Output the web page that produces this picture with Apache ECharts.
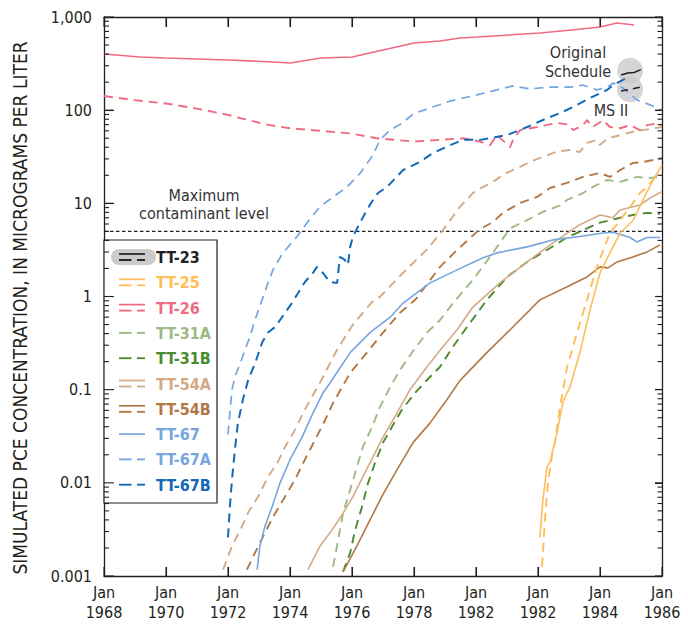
<!DOCTYPE html>
<html>
<head>
<meta charset="utf-8">
<script src="https://cdn.jsdelivr.net/npm/echarts@6/dist/echarts.min.js"></script>
<style>
html,body{margin:0;padding:0;background:#fff;}
#chart{width:688px;height:626px;}
</style>
</head>
<body>
<div id="chart"></div>
<script>
// ---------- axis ticks ----------
const xTickValues = [1968, 1970, 1972, 1974, 1976, 1978, 1980, 1982, 1984, 1986];
const xTickLabels = ['Jan\n1968', 'Jan\n1970', 'Jan\n1972', 'Jan\n1974', 'Jan\n1976', 'Jan\n1978', 'Jan\n1982', 'Jan\n1982', 'Jan\n1984', 'Jan\n1986'];
const yTickValues = [0.001, 0.01, 0.1, 1, 10, 100, 1000];
const yTickLabels = ['0.001', '0.01', '0.1', '1', '10', '100', '1,000'];
const yMinorMultipliers = [2, 3, 4, 5, 6, 7, 8, 9];
const mclValue = 5;

// ---------- series data: [decimal year, PCE concentration (µg/L)] ----------
const tt23Orig = [[1984.68,239],[1984.9,251],[1985.1,254],[1985.32,272]];
const tt23MS = [[1984.68,161],[1985.0,168],[1985.32,177]];
const tt23Blob = [[1984.97,265],[1984.97,168]];

const tt25Orig = [[1982.06,0.0026],[1982.16,0.0066],[1982.29,0.0149],[1982.39,0.0168],[1982.61,0.034],[1982.71,0.051],[1982.81,0.075],[1983.03,0.107],[1983.35,0.25],[1983.68,0.72],[1984.0,1.79],[1984.32,2.94],[1984.65,4.8],[1985.06,6.5],[1985.39,10.9],[1985.71,17.8],[1986.0,25.8]];
const tt25MS = [[1982.13,0.00126],[1982.23,0.0043],[1982.32,0.010],[1982.48,0.0226],[1982.55,0.027],[1982.71,0.065],[1982.94,0.176],[1983.26,0.41],[1983.58,0.92],[1983.9,2.08],[1984.32,4.8],[1984.65,6.6],[1984.97,9.15],[1985.29,12.9],[1985.52,15],[1985.75,18.5]];

const tt26Orig = [[1968.0,401],[1969.16,372],[1970.0,363],[1972.0,346],[1973.0,335],[1974.0,321],[1975.0,363],[1976.0,372],[1977.0,443],[1978.0,526],[1978.84,553],[1979.48,595],[1980.06,610],[1982.06,673],[1983.0,720],[1984.0,781],[1984.55,863],[1985.1,821]];
const tt26MS = [[1968,142],[1969,128],[1970,118],[1971,104],[1972,89],[1972.4,82],[1973.35,69],[1974,64],[1975,60],[1976,56],[1976.8,50],[1978,46],[1978.8,48],[1979.6,50],[1980.13,46],[1980.45,42],[1980.68,54],[1981.1,40],[1981.19,48],[1981.42,61],[1981.97,66],[1982.61,73],[1983.0,70],[1983.13,61],[1983.45,69],[1983.58,78],[1983.77,66],[1984.1,78],[1984.32,66],[1984.65,64],[1984.97,69],[1985.29,61],[1985.52,69],[1985.84,72],[1986,69]];

const tt31AMS = [[1975.39,0.00126],[1975.55,0.0024],[1975.71,0.0047],[1975.94,0.0084],[1976.16,0.0149],[1976.35,0.0243],[1976.65,0.040],[1976.9,0.065],[1977.23,0.107],[1977.55,0.163],[1977.97,0.26],[1978.42,0.41],[1978.84,0.56],[1979.26,0.85],[1979.9,1.51],[1980.45,2.66],[1981.1,5.4],[1981.65,6.6],[1982.16,8.1],[1982.71,9.5],[1982.94,10.9],[1983.45,12.9],[1983.77,15],[1984.23,17.8],[1984.65,17],[1985.19,19.2],[1985.61,18.7],[1985.84,19.2]];
const tt31BMS = [[1975.71,0.00111],[1975.94,0.00177],[1976.1,0.0031],[1976.32,0.0055],[1976.52,0.010],[1976.74,0.0163],[1977.0,0.027],[1977.29,0.040],[1977.61,0.061],[1978.03,0.092],[1978.42,0.127],[1978.84,0.176],[1979.26,0.29],[1979.71,0.47],[1980.35,0.92],[1981.0,1.62],[1981.65,2.35],[1982.29,3.16],[1982.94,4.3],[1983.58,5.4],[1984.0,6.2],[1984.65,7.0],[1985.06,7.5],[1985.52,7.9],[1985.94,7.7]];

const tt54AOrig = [[1974.58,0.00117],[1974.97,0.0021],[1975.35,0.0031],[1975.71,0.0047],[1976.03,0.0071],[1976.35,0.0116],[1976.68,0.019],[1977.0,0.031],[1977.45,0.056],[1977.87,0.10],[1978.42,0.176],[1978.94,0.29],[1979.39,0.44],[1979.9,0.77],[1980.77,1.40],[1981.65,2.35],[1982.48,3.76],[1983.35,5.9],[1984.0,7.5],[1984.42,7.0],[1984.65,8.5],[1985.29,9.6],[1985.61,11.4],[1986.0,13.3]];
const tt54AMS = [[1971.84,0.00117],[1972.13,0.0021],[1972.45,0.0034],[1972.65,0.0048],[1972.97,0.0071],[1973.29,0.0116],[1973.61,0.0168],[1973.84,0.0243],[1974.16,0.037],[1974.42,0.056],[1974.71,0.084],[1975.03,0.13],[1975.52,0.27],[1976.03,0.50],[1976.65,0.875],[1976.9,0.99],[1977.65,1.8],[1978.42,3.2],[1978.94,5.2],[1979.48,9.15],[1979.9,12.9],[1980.23,15],[1980.55,17],[1980.87,20.2],[1981.19,22.8],[1981.42,24.6],[1981.74,27.8],[1982.16,31.5],[1982.61,36],[1983.03,37.4],[1983.35,35.6],[1983.58,44.5],[1983.9,47.9],[1984.0,42.4],[1984.26,50.3],[1984.42,51.5],[1985.0,58],[1986.0,66]];

const tt54BOrig = [[1975.71,0.00111],[1976.16,0.0021],[1976.58,0.0040],[1977.0,0.0075],[1977.45,0.0138],[1977.97,0.027],[1978.52,0.044],[1979.06,0.078],[1979.48,0.125],[1980.35,0.25],[1981.19,0.47],[1982.06,0.92],[1982.94,1.27],[1983.58,1.62],[1984.0,2.08],[1984.26,2.03],[1984.55,2.35],[1985.06,2.66],[1985.52,3.01],[1985.94,3.58]];
const tt54BMS = [[1972.61,0.00117],[1972.87,0.00177],[1973.19,0.0029],[1973.45,0.0043],[1973.84,0.0071],[1974.16,0.0108],[1974.48,0.0177],[1974.81,0.029],[1975.13,0.047],[1975.39,0.072],[1975.94,0.151],[1976.48,0.25],[1977.0,0.41],[1977.55,0.67],[1978.05,0.93],[1978.84,2.08],[1979.39,3.16],[1980.13,5.3],[1980.55,6.3],[1980.87,7.9],[1981.42,10.1],[1981.97,11.7],[1982.39,14.6],[1982.94,16.6],[1983.45,19.2],[1984.0,21.2],[1984.32,19.2],[1984.65,22.8],[1985.06,27.1],[1985.39,27.8],[1985.71,29.2],[1986.0,30.7]];

const tt67Orig = [[1972.94,0.00117],[1973.03,0.0021],[1973.19,0.0034],[1973.42,0.0055],[1973.68,0.010],[1974.0,0.0177],[1974.39,0.031],[1974.74,0.056],[1975.06,0.092],[1975.29,0.118],[1975.94,0.25],[1976.58,0.41],[1977.23,0.6],[1977.65,0.85],[1978.52,1.40],[1979.39,1.93],[1980.23,2.6],[1980.68,2.94],[1981.65,3.41],[1982.48,4.05],[1983.35,4.4],[1984.1,4.8],[1984.42,4.9],[1984.97,4.3],[1985.19,3.85],[1985.52,4.3],[1985.94,4.3]];
const tt67AMS = [[1972.0,0.033],[1972.06,0.056],[1972.13,0.10],[1972.23,0.14],[1972.39,0.19],[1972.55,0.27],[1972.71,0.37],[1972.87,0.56],[1973.1,0.92],[1973.29,1.4],[1973.45,1.93],[1973.77,2.94],[1974.23,4.4],[1974.55,6.2],[1974.97,9.2],[1975.39,11.7],[1975.84,15],[1976.26,21],[1976.68,33],[1976.9,48],[1977.25,62],[1977.55,70],[1978.0,92],[1978.6,108],[1979.16,125],[1980.03,146],[1980.68,165],[1981.19,182],[1981.74,169],[1982.39,177],[1983.03,177],[1983.45,186],[1983.9,165],[1984.23,177],[1984.42,196],[1984.74,173],[1985.19,129],[1985.61,114],[1986.0,100]];
const tt67BMS = [[1972.0,0.0026],[1972.06,0.0055],[1972.13,0.011],[1972.23,0.024],[1972.32,0.044],[1972.48,0.078],[1972.65,0.127],[1972.87,0.19],[1973.1,0.32],[1973.29,0.41],[1973.52,0.47],[1974.06,0.85],[1974.48,1.43],[1974.74,1.79],[1974.87,2.08],[1975.06,1.79],[1975.29,1.43],[1975.52,1.40],[1975.61,2.66],[1975.77,2.47],[1975.87,2.18],[1975.94,3.41],[1976.03,4.4],[1976.26,6.2],[1976.48,8.5],[1976.68,10.9],[1976.84,12.9],[1977.13,15],[1977.65,22.8],[1978.19,27.8],[1978.61,34.7],[1979.16,42],[1979.58,48],[1980.13,48],[1981.0,54],[1981.65,66],[1982.16,78.5],[1982.71,93],[1983.13,108],[1983.68,135],[1984.23,165],[1984.42,186],[1984.74,211],[1984.9,227]];

// ---------- legend ----------
const legendNames = ['TT-23','TT-25','TT-26','TT-31A','TT-31B','TT-54A','TT-54B','TT-67','TT-67A','TT-67B'];
const legendColors = ['#231F20','#FDBE5A','#EE6B82','#9CBA84','#4C8A2E','#D4AA86','#B17846','#77A5DE','#77A5DE','#1468B6'];
const legendKinds = ['both','both','both','dash','dash','both','both','solid','dash','dash'];

const FONT = "'DejaVu Sans Condensed','Liberation Sans Narrow',sans-serif";
const INK = '#231F20';
const DASH = [9, 6];

const X_MIN = 1968, X_MAX = 1986, Y_MIN = 0.001, Y_MAX = 1000;
const GRID = {left: 104, right: 26, top: 17, bottom: 50};
const W = 688, H = 626;
const gL = GRID.left, gR = W - GRID.right, gT = GRID.top, gB = H - GRID.bottom;

const chart = echarts.init(document.getElementById('chart'), null, {renderer: 'svg'});

function lineSeries(name, data, color, dashed, width, dash) {
  return {
    name: name, type: 'line', data: data, showSymbol: false, symbol: 'none',
    xAxisIndex: 0, yAxisIndex: 0, silent: true,
    lineStyle: {color: color, width: width || (dashed ? 1.9 : 1.6), type: dashed ? (dash || DASH) : 'solid'},
    z: 3
  };
}

const series = [
  {type: 'scatter', name: 'blob', data: tt23Blob, symbolSize: 26, silent: true,
    itemStyle: {color: '#CBCBCB'}, z: 2},
  {type: 'line', name: 'MCL', data: [[X_MIN, mclValue], [X_MAX, mclValue]], showSymbol: false, symbol: 'none', silent: true,
    lineStyle: {color: INK, width: 1.1, type: [3.5, 2.5]}, z: 2},
  lineSeries('TT-26 orig', tt26Orig, legendColors[2], false),
  lineSeries('TT-26 MS', tt26MS, legendColors[2], true),
  lineSeries('TT-67A MS', tt67AMS, legendColors[8], true, 1.7),
  lineSeries('TT-67B MS', tt67BMS, legendColors[9], true, 2),
  lineSeries('TT-54A MS', tt54AMS, legendColors[5], true),
  lineSeries('TT-54B MS', tt54BMS, legendColors[6], true),
  lineSeries('TT-31A MS', tt31AMS, legendColors[3], true),
  lineSeries('TT-31B MS', tt31BMS, legendColors[4], true),
  lineSeries('TT-54A orig', tt54AOrig, legendColors[5], false),
  lineSeries('TT-54B orig', tt54BOrig, legendColors[6], false),
  lineSeries('TT-67 orig', tt67Orig, legendColors[7], false),
  lineSeries('TT-25 MS', tt25MS, legendColors[1], true),
  lineSeries('TT-25 orig', tt25Orig, legendColors[1], false),
  lineSeries('TT-23 orig', tt23Orig, legendColors[0], false, 1.5),
  lineSeries('TT-23 MS', tt23MS, legendColors[0], true, 1.5, [7, 5])
];

// ---------- graphic: legend + annotations ----------
const graphic = [];
graphic.push({type: 'rect', shape: {x: 104, y: 240, width: 113, height: 263},
  style: {fill: '#fff', stroke: INK, lineWidth: 1.2}, z: 10});
legendNames.forEach(function (nm, i) {
  const cy = 257 + i * 25.3;
  const col = legendColors[i];
  const kind = legendKinds[i];
  if (i === 0) {
    graphic.push({type: 'rect', shape: {x: 111, y: cy - 8, width: 45, height: 16, r: 8},
      style: {fill: '#CBCBCB'}, z: 11});
  }
  const solidY = kind === 'both' ? cy - 3 : cy;
  const dashY = kind === 'both' ? cy + 3 : cy;
  if (kind === 'both' || kind === 'solid') {
    graphic.push({type: 'line', shape: {x1: 119, y1: solidY, x2: 145, y2: solidY},
      style: {stroke: col, lineWidth: 1.7}, z: 12});
  }
  if (kind === 'both' || kind === 'dash') {
    graphic.push({type: 'line', shape: {x1: 119, y1: dashY, x2: 131.5, y2: dashY},
      style: {stroke: col, lineWidth: 1.9}, z: 12});
    graphic.push({type: 'line', shape: {x1: 137, y1: dashY, x2: 145, y2: dashY},
      style: {stroke: col, lineWidth: 1.9}, z: 12});
  }
  graphic.push({type: 'text', x: 156, y: cy + 0.5, z: 12,
    style: {text: nm, fill: col, font: 'bold 16px ' + FONT, textAlign: 'left', textVerticalAlign: 'middle'}});
});
function note(txt, x, y) {
  graphic.push({type: 'text', x: x, y: y, z: 12,
    style: {text: txt, fill: '#333', font: '16px ' + FONT, textAlign: 'center', textVerticalAlign: 'middle'}});
}
note('Maximum', 204, 195);
note('contaminant level', 204, 213.5);
note('Original', 578, 52);
note('Schedule', 578, 71.5);
note('MS II', 611, 110);
graphic.push({type: 'text', x: 20, y: 308, rotation: Math.PI / 2, z: 12,
  style: {text: 'SIMULATED PCE CONCENTRATION, IN MICROGRAMS PER LITER', fill: INK, font: '19px ' + FONT,
    textAlign: 'center', textVerticalAlign: 'middle'}});

// tick marks for the framed plot (inward), placed on the same linear / log-10 scales as the axes
function xPix(x) { return gL + (x - X_MIN) / (X_MAX - X_MIN) * (gR - gL); }
function yPix(v) {
  const lo = Math.log10(Y_MIN), hi = Math.log10(Y_MAX);
  return gB - (Math.log10(v) - lo) / (hi - lo) * (gB - gT);
}
function tick(x1, y1, x2, y2) {
  graphic.push({type: 'line', shape: {x1: x1, y1: y1, x2: x2, y2: y2},
    style: {stroke: INK, lineWidth: 1.1}, z: 30});
}
yTickValues.forEach(function (v) {
  const y = yPix(v);
  tick(gL, y, gL + 10, y);
  tick(gR, y, gR - 7, y);
});
yTickValues.slice(0, -1).forEach(function (dec) {
  yMinorMultipliers.forEach(function (m) {
    const y = yPix(dec * m);
    tick(gL, y, gL + 5, y);
    tick(gR, y, gR - 4.5, y);
  });
});
xTickValues.forEach(function (x) {
  const px = xPix(x);
  tick(px, gB, px, gB - 9);
  tick(px, gT, px, gT + 10);
});

const axisLineStyle = {show: true, lineStyle: {color: INK, width: 1.3}};

const option = {
  animation: false,
  backgroundColor: '#fff',
  grid: {left: GRID.left, right: GRID.right, top: GRID.top, bottom: GRID.bottom, containLabel: false},
  xAxis: [
    {
      type: 'value', min: X_MIN, max: X_MAX, interval: 2, position: 'bottom',
      axisLine: axisLineStyle, splitLine: {show: false},
      axisTick: {show: true, inside: true, length: 9, lineStyle: {color: INK, width: 1.1}},
      axisLabel: {
        margin: 6, color: INK, fontFamily: FONT, fontSize: 16, lineHeight: 20, align: 'center',
        formatter: function (v) {
          const i = xTickValues.indexOf(Math.round(v));
          return i >= 0 ? xTickLabels[i] : '';
        }
      }
    },
    {
      type: 'value', min: X_MIN, max: X_MAX, interval: 2, position: 'top',
      axisLine: axisLineStyle, splitLine: {show: false},
      axisTick: {show: true, inside: true, length: 10, lineStyle: {color: INK, width: 1.1}},
      axisLabel: {show: false}
    }
  ],
  yAxis: [
    {
      type: 'log', logBase: 10, min: Y_MIN, max: Y_MAX, position: 'left',
      axisLine: axisLineStyle, splitLine: {show: false},
      axisTick: {show: true, inside: true, length: 10, lineStyle: {color: INK, width: 1.1}},
      axisLabel: {
        margin: 12, color: INK, fontFamily: FONT, fontSize: 16,
        formatter: function (v) {
          const k = Math.round(Math.log10(v));
          const i = yTickValues.findIndex(function (t) { return Math.round(Math.log10(t)) === k; });
          return i >= 0 ? yTickLabels[i] : '';
        }
      }
    },
    {
      type: 'log', logBase: 10, min: Y_MIN, max: Y_MAX, position: 'right',
      axisLine: axisLineStyle, splitLine: {show: false},
      axisTick: {show: true, inside: true, length: 7, lineStyle: {color: INK, width: 1.1}},
      axisLabel: {show: false}
    }
  ],
  series: series,
  graphic: graphic
};

chart.setOption(option);
</script>
</body>
</html>
